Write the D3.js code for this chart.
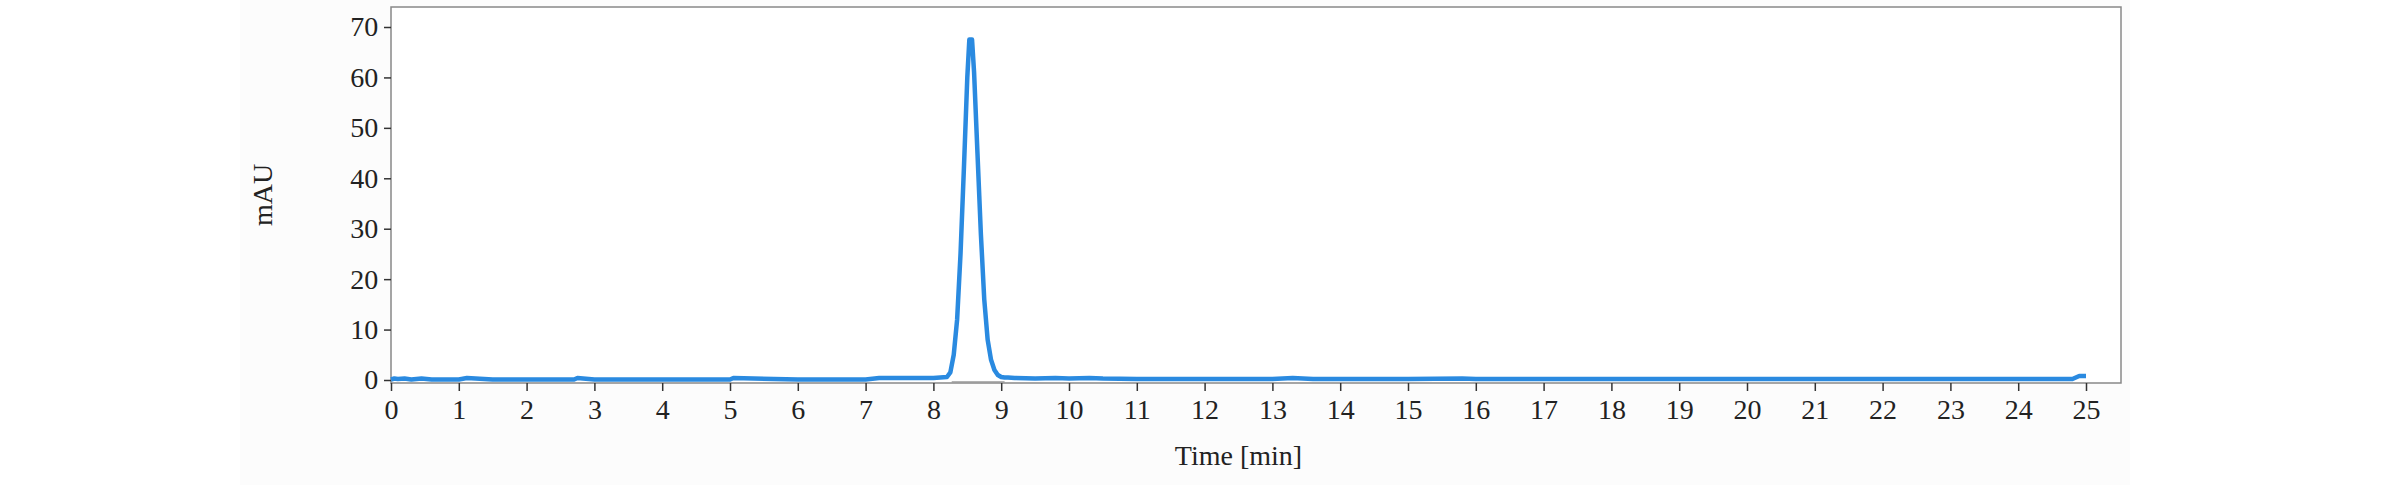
<!DOCTYPE html>
<html><head><meta charset="utf-8">
<script src="https://cdn.jsdelivr.net/npm/d3@7"></script>
<style>body{margin:0;background:#fff}svg{display:block}</style></head>
<body><svg width="2382" height="485"></svg>
<script>
const times = [0,0.05,0.1,0.2,0.3,0.45,0.6,1.0,1.12,1.5,2.0,2.7,2.75,3.0,4.0,5.0,5.05,6.0,7.0,7.2,7.5,8.0,8.2,8.25,8.3,8.35,8.4,8.45,8.5,8.53,8.57,8.6,8.65,8.7,8.75,8.8,8.85,8.9,8.95,9.0,9.05,9.1,9.2,9.5,9.8,10.0,10.3,10.5,11.0,12.0,13.0,13.3,13.6,14.0,15.0,15.8,16.0,17,18,19,20,21,22,23,24,24.8,24.9,25.0];
const mAU = [0.1,0.3,0.2,0.3,0.1,0.3,0.1,0.1,0.4,0.1,0.1,0.1,0.4,0.1,0.1,0.1,0.4,0.1,0.1,0.4,0.4,0.4,0.6,1.5,5,12,25,42,60,67.5,67.5,61,45,29,16,8,4,2,1,0.6,0.5,0.5,0.4,0.3,0.4,0.3,0.4,0.3,0.2,0.2,0.2,0.4,0.2,0.2,0.2,0.3,0.2,0.2,0.2,0.2,0.2,0.2,0.2,0.2,0.2,0.2,0.8,0.8];
const xTicks = d3.range(0,26);
const yTicks = [0,10,20,30,40,50,60,70];
const baselineSeg = [8.27, 9.05];

const svg = d3.select("svg");
svg.append("rect").attr("x",240).attr("y",0).attr("width",1890).attr("height",485).attr("fill","#fcfcfc");
const x = d3.scaleLinear().domain([0,25]).range([391,2086]);
const y = d3.scaleLinear().domain([0,70]).range([380,27]);
const font = "Liberation Serif, DejaVu Serif, serif";
svg.append("rect").attr("x",391).attr("y",7).attr("width",2121-391).attr("height",383-7)
  .attr("fill","#fff").attr("stroke","#888").attr("stroke-width",1.5);
const gx = svg.append("g").attr("transform","translate(0,383)")
  .call(d3.axisBottom(x).tickValues(xTicks).tickSize(8).tickSizeOuter(0).tickFormat(d3.format("d")));
gx.select(".domain").remove();
gx.selectAll("text").attr("font-family",font).attr("font-size",28).attr("fill","#222").attr("dy","0.9em");
gx.selectAll("line").attr("stroke","#333").attr("stroke-width",1.5);
const gy = svg.append("g").attr("transform","translate(391,0)")
  .call(d3.axisLeft(y).tickValues(yTicks).tickSize(7).tickSizeOuter(0));
gy.select(".domain").remove();
gy.selectAll("text").attr("font-family",font).attr("font-size",28).attr("fill","#222").attr("dx","-0.1em");
gy.selectAll("line").attr("stroke","#333").attr("stroke-width",1.5);
svg.append("line").attr("x1",x(baselineSeg[0])).attr("x2",x(baselineSeg[1]))
  .attr("y1",y(0)+2).attr("y2",y(0)+2).attr("stroke","#999").attr("stroke-width",1.5);
svg.append("path").datum(times.map((t,i)=>[t,mAU[i]]))
  .attr("d",d3.line().x(d=>x(d[0])).y(d=>y(d[1])))
  .attr("fill","none").attr("stroke","#2a8ae0").attr("stroke-width",4.5).attr("stroke-linejoin","round");
svg.append("text").attr("x",x(12.5)).attr("y",465).attr("text-anchor","middle")
  .attr("font-family",font).attr("font-size",28).attr("fill","#222").text("Time [min]");
svg.append("text").attr("transform","translate(272,195) rotate(-90)").attr("text-anchor","middle")
  .attr("font-family",font).attr("font-size",28).attr("fill","#222").text("mAU");
</script></body></html>
